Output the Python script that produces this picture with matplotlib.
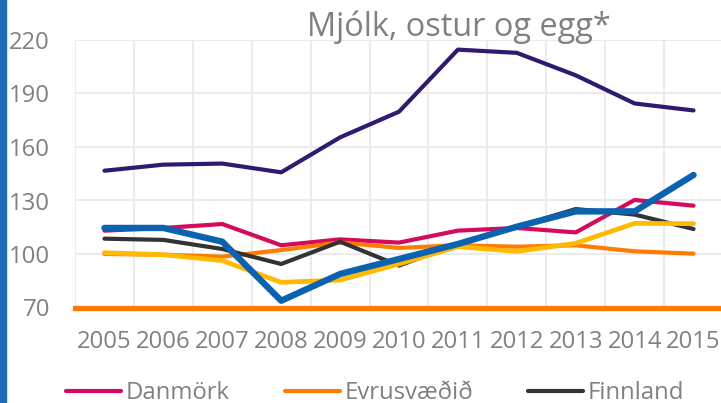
#!/usr/bin/env python3

import numpy as np
import matplotlib
matplotlib.use('Agg')
import matplotlib.pyplot as plt
from matplotlib.patches import Rectangle

plt.rcParams['font.family'] = ['Open Sans', 'DejaVu Sans']

years = ['2005', '2006', '2007', '2008', '2009', '2010',
         '2011', '2012', '2013', '2014', '2015']

# index values
purple = [146.7, 150.1, 150.7, 145.8, 165.4, 179.8, 214.6, 212.8, 200.2, 184.4, 180.5]
danmork = [113.1, 114.6, 116.8, 104.9, 108.2, 106.4, 113.1, 114.6, 112.1, 130.3, 127.1]
evrusvaedid = [100.0, 99.6, 98.5, 102.2, 106.5, 103.4, 104.9, 104.1, 104.9, 101.5, 100.2]
finnland = [108.6, 107.9, 102.8, 94.4, 106.9, 93.5, 105.6, 115.3, 125.2, 122.1, 114.0]
yellow = [100.7, 99.6, 96.3, 84.1, 85.4, 94.4, 104.1, 101.5, 106.0, 117.2, 117.0]
blue = [114.6, 114.6, 106.9, 73.8, 88.8, 97.2, 105.6, 115.3, 123.9, 123.9, 144.3]

yticks = [70, 100, 130, 160, 190, 220]
title = 'Mjólk, ostur og egg*'

grey = '#808080'
fs = 17.2

fig = plt.figure(figsize=(7.21, 4.03), dpi=100)
ax = fig.add_axes([75 / 721, 95.5 / 403, 648 / 721, 267.5 / 403])

# left blue edge bar
fig.patches.append(Rectangle((0, 0), 6 / 721, 1, transform=fig.transFigure,
                             color='#1F6BB5', zorder=0))

x = np.arange(len(years))
kw = dict(solid_capstyle='round', solid_joinstyle='round')
ax.plot(x, purple, color='#2F1A6F', lw=3.0, **kw)
l1, = ax.plot(x, danmork, color='#D60A5C', lw=3.0, label='Danmörk', **kw)
l2, = ax.plot(x, evrusvaedid, color='#FF7C00', lw=3.0, label='Evrusvæðið', **kw)
l3, = ax.plot(x, finnland, color='#333333', lw=3.0, label='Finnland', **kw)
ax.plot(x, yellow, color='#FFB900', lw=3.4, **kw)
ax.plot(x, blue, color='#0A62B0', lw=4.6, **kw)

ax.set_xlim(-0.5, len(years) - 0.5)
ax.set_ylim(70, 220)
ax.set_xticks(x)
ax.set_xticklabels(years)
ax.set_xticks(np.arange(-0.5, len(years), 1.0), minor=True)
ax.set_yticks(yticks)

ax.tick_params(axis='both', which='both', length=0, colors=grey, labelsize=fs)
ax.tick_params(axis='x', pad=16)
ax.tick_params(axis='y', pad=18)
ax.grid(True, axis='y', which='major', color='#EBEBEB', lw=1.5)
ax.grid(True, axis='x', which='minor', color='#EBEBEB', lw=1.5)
ax.set_axisbelow(True)

for s in ['top', 'right', 'left']:
    ax.spines[s].set_visible(False)
ax.spines['bottom'].set_color('#FF7A00')
ax.spines['bottom'].set_linewidth(3.8)
ax.spines['bottom'].set_zorder(5)

fig.text(459 / 721, (403 - 36) / 403, title, ha='center', va='baseline',
         fontsize=23.4, color=grey)

fig.legend(handles=[l1, l2, l3], loc='center left',
           bbox_to_anchor=(66 / 721, 10 / 403), ncol=3, frameon=False,
           fontsize=fs, labelcolor=grey, handlelength=2.3,
           handletextpad=0.2, columnspacing=2.3, borderpad=0,
           borderaxespad=0)

fig.savefig('out.png', dpi=100)
